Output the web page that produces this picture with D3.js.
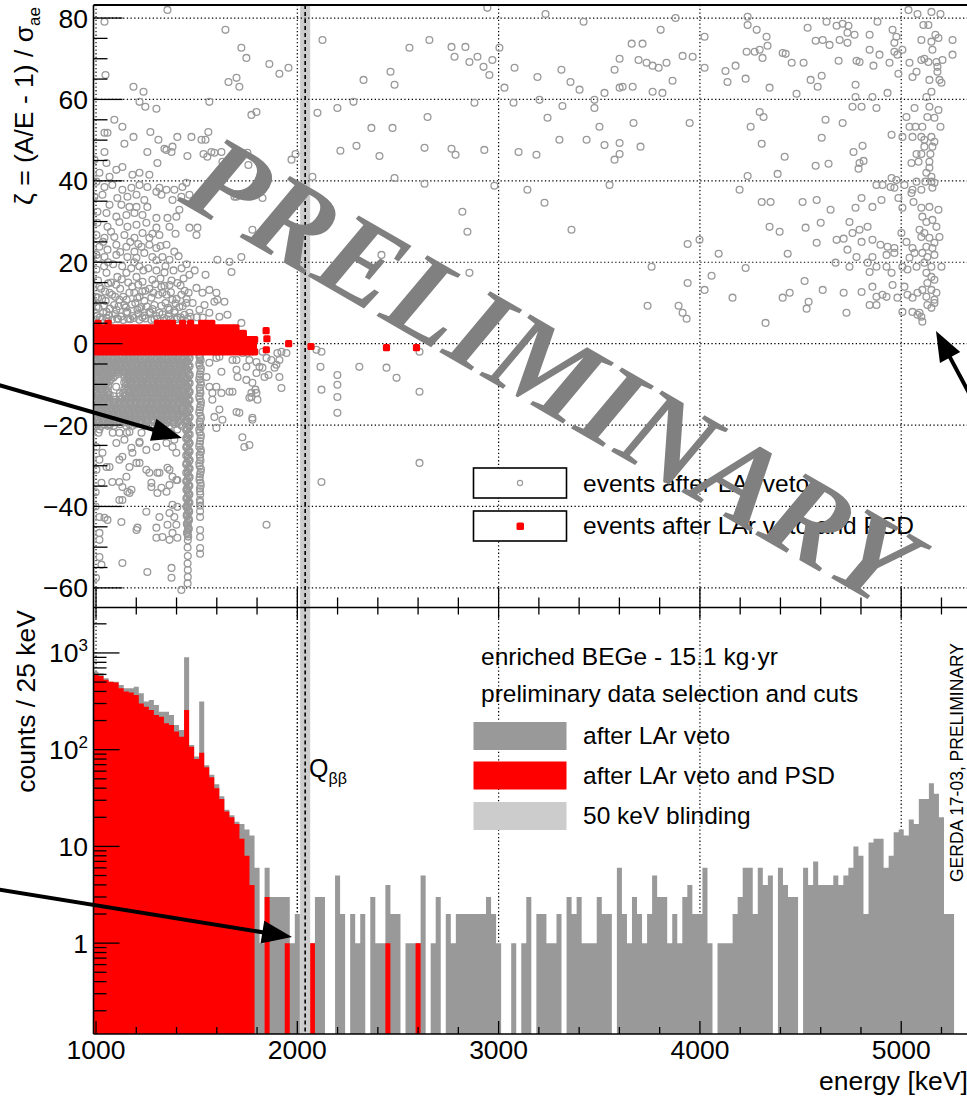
<!DOCTYPE html>
<html><head><meta charset="utf-8">
<script src="https://cdn.jsdelivr.net/npm/d3@7"></script>
<style>body{margin:0;background:#fff}svg{display:block}text{font-family:"Liberation Sans",Arial,Helvetica,sans-serif}</style>
</head><body>
<script>
// ---------------- DATA ----------------
const binStart = 987.5, binWidth = 25;
// counts / 25 keV after LAr veto (bin centres 1000,1025,...)
const countsLAr = [640,617,547,505,505,465,431,431,448,383,314,326,290,247,247,228,180,160,902,112,
85,314,69,55,44,33,24,21,18,17,15,13,6,1,6,3,3,3,3,1,
2,0,0,1,3,3,0,0,5,2,0,2,1,2,0,3,1,1,4,2,
2,0,1,1,1,5,0,1,3,0,2,1,2,2,2,2,2,2,3,2,
1,0,0,1,0,1,3,0,2,2,1,1,2,0,3,2,3,1,1,1,
3,2,2,0,6,2,1,3,2,1,2,5,3,3,1,2,1,3,4,2,
2,6,1,0,1,1,1,2,3,6,6,2,6,4,5,0,6,4,3,3,
0,6,4,7,4,4,4,5,4,5,6,10,8,2,11,12,12,6,8,14,
15,13,19,17,31,31,45,35,20,2,2];
// counts / 25 keV after LAr veto and PSD
const countsPSD = [592,577,527,505,495,431,399,389,368,301,278,257,228,219,188,180,154,136,257,107,
80,93,66,52,40,31,23,20,17,12,8,4,0,0,3,0,0,0,1,0,
0,0,0,1,0,0,0,0,0,0,0,0,0,0,0,0,0,0,1,0,
0,0,0,0,1];
const Qbb = 2039, blindLo = 2014, blindHi = 2064;

// events after LAr veto: [energy keV, zeta]
const grayEventsLowE = [
[1355,82],[1042,79.1],[1047,66],[1643,77.1],[1722,72.7],[1747,70.2],[1861,68.7],[1911,66.3],[1956,67.8],[1658,64.3],
[1698,65.3],[1712,63.1],[1186,63.1],[1236,61.9],[1216,59.4],[1245,58.2],[1300,57.7],[1563,59.4],[1772,56.2],[1797,56.9],
[1091,55],[1131,53.3],[1057,51.8],[1186,50.8],[1270,52],[1310,50.1],[1350,47.6],[1380,48.4],[1404,50.8],[1474,50.8],
[1524,50.1],[1544,50.1],[1558,52],[1141,49.1],[1255,47.1],[1340,47.9],[1375,47.1],[1454,46.1],[1534,46.6],[1573,47.1],
[1623,47.1],[1628,44.7],[1553,45.9],[1752,46.9],[1757,43.9],[1991,46.6],[1971,45.2],[1688,36.1],[1827,35.8],[1777,28],
[1663,20.1],[1673,17.6],[1603,20.6],[1722,21.3],[1042,51.8],[1042,47.1],[992,45.2],[1052,44.4],[1101,42.7],[1131,43.4],
[1181,41.5],[1216,42],[1265,41.5],[1305,44.4],[1017,42],[1067,41],[1588,46.9],
[1002,39.8],[1042,38.5],[1081,39],[1131,37.8],[1176,38.3],[1216,39],[1255,38.5],[1315,38.3],[1350,37.8],[1389,37.8],
[1429,38.5],[1449,39.5],[992,36.1],[1032,36.6],[1106,35.8],[1156,36.1],[1201,36.6],[1240,35.3],[1300,37.3],[1325,36.6],
[1380,35.3],[1424,36.1],[1464,36.6],[1067,34.1],[1126,34.1],[1166,33.6],[1201,33.6],[1255,33.6],[1414,32.9],[1007,32.4],
[1052,32.1],[1101,31.2],[1151,31.6],[1191,32.1],[1231,31.6],[1300,30.9],[1355,30.9],[1399,31.2],[1464,28.5],[1504,28.5],
[1499,26.7],[1007,29.7],[1057,28.7],[1116,29.9],[1156,28.7],[1201,29.2],[1250,29.7],[1300,28.5],[1315,26.7],[1365,28.7],
[1002,26.7],[1042,26],[1091,26.2],[1141,26.7],[1191,26],[1231,27.2],[1265,26],[1350,24.3],[1017,23.8],[1057,23.1],
[1101,24.3],[1151,23.8],[1191,22.6],[1226,23.8],[1265,24.3],[1300,23.5],[1389,22.6],[1002,21.8],[1042,21.3],[1101,21.8],
[1156,21.3],[1201,21.1],[1240,22.3],[1280,21.3],[1330,21.3],[1365,20.6],
[1002,18.2],[1052,17.4],[1106,16.4],[1151,17.4],[1201,16.4],[1231,15.2],[1280,15.7],[1325,14],[1365,14.4],[1404,14.9],
[1464,16.9],[1499,13.7],[1544,16.9],[1563,13.2],[1638,10.3],[1588,10.3],[1598,12.5],[1529,12.5],[1017,14],[1067,12.5],
[1116,10.8],[1166,12.5],[1216,11.5],[1275,11.3],[1330,12.5],[1380,10.8],[1424,12],[1449,10],[1514,8.3],[1563,7.6],
[1613,6.6],[1653,7.1],[1002,9],[1052,7.8],[1101,8.3],[1156,7.8],[1206,8.3],[1265,7.8],[1315,7.6],[1365,8.3],
[1414,9],[1464,7.6],[1010,15.5],[1030,11],[1075,15],[1090,9.5],[1120,13.5],[1140,9.5],[1180,14],[1195,10],
[1225,9],[1245,13],[1290,9.5],[1310,12],[1345,10],[1390,8],[1420,6.5],[1440,13],[1480,10],[1500,6.5],
[1020,6.5],[1060,5.5],[1110,6],[1170,6],[1230,6.5],[1290,6],[1350,6],[1400,6],[1040,19],[1085,19.5],
[1130,19],[1175,18.5],[1215,19],[1260,18.5],[1300,18],[1340,17.5],[1385,18],[1425,18.5],[1035,25],[1075,27.5],
[1170,25],[1210,24.5],[1280,27],[1320,24],[1395,27],[1698,36.1],[1539,9.5],[1603,10.8],[1722,5.1],
[1005,6.8],[1035,7.5],[1065,6.9],[1095,7.3],[1125,6.7],[1150,7.6],[1180,6.8],[1210,7.4],[1240,6.9],[1270,7.5],
[1300,6.8],[1330,7.2],[1360,6.7],[1390,7.6],[1440,7.1],[1470,6.6],[1530,6.4],[998,11.5],[1025,13.5],[1048,10.5],
[1080,12],[1100,14.5],[1135,11.5],[1160,15],[1190,12.5],[1210,14.5],[1240,10.5],[1265,13.5],[1285,12.5],[1320,16],
[1350,12],[1375,15.5],[1400,11],[1435,16],[1460,12.5],[1010,21],[1060,20],[1120,22.5],[1190,20],[1235,18],
[1300,20.5],[1345,19],[1410,21.5],[1450,19.5],[1490,18],
[1000,5.8],[1028,6],[1052,6.3],[1080,5.9],[1105,6.2],[1135,5.8],[1160,6.1],[1188,6.3],[1215,5.9],[1245,6.2],
[1275,5.8],[1305,6.1],[1338,6.3],[1370,5.9],[1405,6.4],[1430,5.8],[1455,6.1],[1012,8.8],[1040,9.4],[1068,8.6],
[1112,9.2],[1148,8.9],[1178,9.6],[1215,8.7],[1252,9.1],[1280,8.5],[1325,9.3],[1358,8.8],[1395,9.9],[1430,9.2],
[1010,11.3],[1045,12.8],[1060,14.8],[1095,11.5],[1128,15.8],[1152,10.8],[1205,11.2],[1230,12.8],[1295,14.6],[1340,14.2],
[1372,12.6],[1420,14.3],[1450,11],
// below the band
[1563,-4.7],[1613,-3.2],[1623,-6.9],[1549,-8.2],[1563,-10.6],[1578,-13.8],[1588,-18],[1613,-16.2],[1663,-11.8],[1712,-17],
[1772,-13.1],[1792,-11.3],[1747,-8.9],[1797,-7.2],[1797,-4.5],[1752,-2.3],[1827,-2],[1857,-7.7],[1896,-5.2],[1901,-2.3],
[1678,-4],[1703,-8.2],[1747,-5.7],[1514,-1.5],[1514,-3.2],[1598,-3.5],[1698,-4],[1727,-2.3],[1762,-4],[1698,-6.4],
[1777,-9.6],[1797,-12.1],[1762,-13.3],[1698,-16.8],[1777,-18.7],[1623,-12.1],[1598,-10.6],[1578,-12.1],[1628,-18.7],[1598,-20.7],
[1678,-11.8],[1827,-5.9],[1871,-4],[1911,-4],[1727,-23],[1737,-25.4],[1847,-44.5],
[1812,-5.7],[1837,-8.2],[1847,-3.5],[1887,-5.9],[1911,-8.2],[1921,-10.9],[1921,-2],[1946,-2.3],[1762,-24.9],[1777,-18.2],
[1802,-13.8],[1772,-12.1],
[1002,-25.4],[1017,-28.5],[1052,-30.3],[1101,-24.4],[1141,-23.6],[1176,-25.6],[1216,-24.4],[1250,-26.1],[1300,-25.4],[1350,-24.4],
[1380,-25.4],[1399,-26.8],[1116,-28.5],[1166,-30.3],[1216,-29.3],[1265,-31.7],[1315,-31.7],[1365,-31],[1399,-33.5],[1275,-35.2],
[1305,-36.7],[1350,-36.4],[1116,-34],[1156,-36.4],[1131,-38.4],[1250,-41.3],[1315,-42.6],[1380,-39.6],[1389,-42.6],[1201,-45.8],
[1300,-47.7],[1365,-48.2],[1404,-47.7],[1017,-48.2],[1017,-42.6],[1057,-43.3],[1126,-43.8],[1131,-53.9],[1255,-56.1],[1375,-55.1],
[1375,-57.5],[1424,-60.5],[1017,-52.4],[1027,-54.3],[1017,-21.1],[1067,-20],[1116,-21.9],[1166,-21.7],[1216,-24.1],[1389,-23.6],
[1404,-21.1],[1032,-26.8],[1131,-27.8],[1181,-26.8],[1067,-30.3],[1151,-32.7],[1201,-29.3],[1250,-31],[1305,-31.7],[1355,-30.5],
[1380,-32.7],[1002,-31],[1027,-34.2],[1081,-34],[1131,-35.2],[1176,-35.9],[1275,-34.2],[1325,-35.4],[1365,-34.7],[1404,-33.5],
[1116,-38.4],[1166,-36.7],[1365,-41.6],[1404,-40.1],[1042,-42.8],[1206,-45.2],[1300,-45.2],[1355,-44.5],[1399,-44.5],[1380,-46.5],
[1017,-46.5],[1330,-47.5],[998,-36.5],[998,-40],[1000,-57.5],[1100,-10.6],[1118,-12.2]
];
const grayDenseRows = [
[-3.2,[995,1022,1048,1076,1101,1129,1155,1182,1208,1236,1262,1290,1316,1343,1370,1396,1423,1440]],
[-3.6,[1008,1035,1061,1089,1114,1142,1168,1195,1221,1249,1275,1303,1329,1356,1383,1409,1436]],
[-4.05,[1002,1028,1055,1082,1108,1135,1162,1188,1215,1242,1268,1296,1322,1349,1376,1403,1430]],
[-4.45,[995,1015,1041,1068,1095,1121,1148,1175,1201,1228,1255,1281,1309,1335,1362,1389,1416,1443]],
[-4.9,[1008,1035,1061,1088,1115,1142,1168,1195,1222,1249,1275,1302,1329,1356,1383,1410,1436]],
[-5.3,[1001,1022,1048,1075,1101,1128,1155,1181,1209,1235,1262,1289,1315,1342,1369,1396,1423]],
[-5.75,[1014,1041,1068,1095,1121,1148,1175,1201,1228,1255,1282,1309,1336,1362,1389,1416,1442]],
[-6.15,[1007,1028,1054,1081,1108,1134,1161,1188,1214,1241,1268,1295,1322,1348,1375,1402,1429]],
[-6.6,[996,1021,1049,1075,1102,1128,1156,1181,1209,1235,1263,1289,1317,1342,1369,1397,1424]],
[-7.0,[995,1010,1035,1062,1088,1115,1142,1169,1195,1222,1249,1276,1302,1329,1356,1382,1410,1437]],
[-7.45,[1001,1027,1056,1081,1109,1135,1162,1188,1215,1242,1269,1296,1323,1349,1376,1403,1430]],
[-7.85,[1014,1041,1068,1095,1155,1181,1208,1235,1262,1289,1316,1342,1369,1396,1423]],
[-8.3,[1007,1034,1062,1087,1141,1169,1194,1221,1248,1276,1303,1330,1355,1382,1409,1437]],
[-8.7,[1000,1021,1048,1075,1155,1182,1208,1235,1262,1289,1316,1343,1370,1396,1423]],
[-9.15,[1013,1041,1068,1148,1175,1201,1228,1255,1282,1310,1336,1362,1389,1416,1442]],
[-9.55,[1007,1027,1054,1140,1168,1195,1221,1248,1275,1302,1329,1355,1382,1409,1436]],
[-10.0,[995,1020,1047,1155,1182,1208,1235,1262,1290,1316,1343,1370,1396,1423]],
[-10.4,[1013,1034,1061,1148,1175,1201,1228,1255,1282,1309,1336,1362,1389,1416,1443]],
[-10.85,[1001,1027,1054,1162,1188,1215,1242,1269,1296,1323,1350,1377,1403,1430]],
[-11.25,[995,1020,1047,1140,1155,1182,1208,1235,1262,1289,1316,1343,1370,1396,1423]],
[-11.7,[1006,1033,1060,1169,1196,1222,1249,1277,1303,1330,1357,1384,1410,1436]],
[-12.1,[1001,1027,1054,1135,1162,1189,1215,1242,1269,1296,1323,1349,1376,1403,1430]],
[-12.55,[1013,1040,1068,1150,1176,1203,1230,1256,1283,1310,1337,1363,1390,1417,1442]],
[-12.95,[1008,1034,1061,1088,1117,1143,1170,1197,1224,1250,1277,1304,1331,1357,1384,1411,1437]],
[-13.4,[996,1022,1050,1130,1157,1184,1211,1237,1264,1291,1318,1344,1371,1398,1425]],
[-13.8,[995,1015,1041,1068,1095,1121,1148,1175,1201,1228,1255,1282,1309,1335,1362,1389,1416,1442]],
[-14.25,[1002,1029,1056,1084,1111,1137,1164,1191,1218,1244,1271,1298,1325,1351,1378,1405,1432]],
[-14.65,[1009,1036,1063,1090,1117,1144,1171,1198,1224,1251,1278,1305,1332,1358,1385,1412,1439]],
[-15.1,[1008,1035,1063,1090,1117,1144,1171,1198,1224,1251,1278,1305,1332,1358,1385,1412]],
[-15.5,[996,1022,1049,1076,1103,1130,1157,1184,1211,1238,1264,1291,1318,1345,1372,1398,1426]],
[-15.95,[1014,1042,1070,1097,1124,1151,1178,1205,1231,1258,1285,1312,1339,1365,1392,1419]],
[-16.35,[1002,1029,1056,1083,1110,1137,1164,1191,1218,1244,1271,1298,1325,1352,1378,1405,1432]],
[-16.8,[997,1024,1051,1079,1106,1133,1160,1187,1213,1240,1267,1294,1321,1347,1374,1400,1428]],
[-17.2,[1010,1037,1064,1091,1119,1146,1173,1200,1227,1254,1281,1308,1334,1361,1388,1414,1440]],
[-17.65,[1004,1031,1058,1086,1113,1140,1167,1194,1220,1247,1274,1301,1328,1354,1381,1407,1434]],
[-18.05,[997,1024,1052,1080,1107,1134,1161,1189,1216,1243,1270,1297,1324,1351,1378,1405,1431]],
[-18.5,[1010,1038,1066,1093,1121,1148,1176,1203,1230,1257,1284,1312,1339,1366,1393,1420]],
[-18.9,[1003,1031,1059,1087,1115,1142,1170,1197,1224,1252,1279,1306,1333,1360,1387,1414]],
[-19.35,[1017,1045,1073,1100,1135,1162,1190,1217,1250,1291,1320,1353,1380,1408]],
[-19.8,[1011,1040,1070,1120,1165,1198,1228,1260,1303,1345,1390,1418]],
[-20.2,[998,1028,1058,1089,1150,1181,1242,1272,1334,1365,1425]],
[-21.9,[1012,1083,1153,1226,1298,1370]]
];
const grayLine1460 = [[1449,-2.6],[1463,-3.7],[1451,-4.6],[1461,-5.8],[1455,-6.7],[1464,-7.9],[1450,-8.8],[1460,-9.9],[1455,-10.8],[1463,-12],
[1450,-12.9],[1459,-14],[1455,-15.1],[1463,-16.2],[1451,-17.1],[1460,-18.3],[1455,-19.2],[1463,-20.4],[1450,-21.3],[1459,-22.5],
[1455,-23.4],[1463,-24.6],[1451,-25.5],[1460,-26.7],[1455,-27.6],[1463,-28.8],[1450,-29.7],[1459,-30.9],[1455,-31.8],[1462,-33],
[1451,-33.9],[1460,-35.1],[1455,-36],[1462,-37.2],[1451,-38.1],[1459,-39.3],[1455,-40.2],[1461,-41.4],[1452,-42.3],[1459,-43.5],
[1455,-44.6],[1458,-45.8],[1455,-46.9],[1456,-48.3],[1455,-50.1],[1456,-52.2],[1455,-54],[1456,-55.6],[1456,-57.3],[1455,-58.9],
[1457,-3.1],[1453,-4.2],[1459,-5.2],[1452,-6.3],[1460,-7.3],[1454,-8.4],[1458,-9.4],[1452,-10.5],[1459,-11.5],[1454,-12.5],
[1460,-13.6],[1452,-14.6],[1458,-15.7],[1453,-16.7],[1459,-17.8],[1452,-18.8],[1460,-19.9],[1454,-20.9],[1458,-22],[1452,-23],
[1459,-24.1],[1453,-25.1],[1460,-26.2],[1454,-27.2],[1458,-28.3],[1452,-29.3],[1460,-30.4],[1454,-31.4],[1458,-32.5],[1453,-33.5],
[1459,-34.6],[1452,-35.6],[1458,-36.7],[1454,-37.7],[1460,-38.8],[1453,-39.8],[1458,-40.9],[1454,-41.9],[1459,-43],[1455,-44],
[1458,-45.2],[1455,-46.2],
[1465,-3.4],[1448,-4.4],[1465,-5.5],[1448,-6.5],[1465,-7.6],[1448,-8.6],[1465,-9.7],[1448,-10.7],[1465,-11.8],[1448,-12.8],
[1465,-13.9],[1448,-14.9],[1465,-16],[1448,-17],[1465,-18.1],[1448,-19.1],[1465,-20.2],[1448,-21.2],[1465,-22.3],[1448,-23.3],
[1465,-24.4],[1448,-25.4],[1465,-26.5],[1448,-27.5],[1465,-28.6],[1448,-29.6],[1465,-30.7],[1448,-31.7],[1465,-32.8],[1448,-33.8],
[1464,-34.9],[1449,-35.9],[1464,-37],[1449,-38],[1464,-39.1],[1449,-40.1],[1463,-41.2],[1450,-42.2],[1462,-43.3],[1451,-44.3],
[1461,-45.5],[1452,-46.5],[1458,-47.4]];
const grayLine1525 = [[1514,-2.8],[1520,-4.1],[1515,-5.4],[1519,-6.8],[1515,-8.1],[1520,-9.5],[1515,-10.8],[1519,-12.2],[1515,-13.6],[1520,-15],
[1515,-16.3],[1519,-17.7],[1515,-19.1],[1520,-20.5],[1515,-21.8],[1519,-23.2],[1515,-24.6],[1520,-26],[1515,-27.3],[1519,-28.7],
[1515,-30.1],[1520,-31.5],[1515,-32.8],[1519,-34.2],[1516,-35.6],[1518,-37],[1516,-38.4],[1517,-39.8],[1517,-42.6],[1517,-45.8],
[1517,-47.5],[1517,-50.2],[1517,-51.6],
[1517,-3.5],[1513,-4.8],[1521,-6.1],[1517,-7.5],[1513,-8.8],[1521,-10.1],[1517,-11.5],[1513,-12.9],[1521,-14.3],[1517,-15.6],
[1513,-17],[1521,-18.4],[1517,-19.8],[1513,-21.1],[1521,-22.5],[1517,-23.9],[1513,-25.3],[1521,-26.6],[1517,-28],[1513,-29.4],
[1521,-30.8],[1517,-32.1],[1514,-33.5],[1520,-34.9],[1517,-36.3],[1517,-38.9],[1517,-41.2]];
const grayEventsMid = [
[2100,56.7],[2095,-1.5],[2120,-2],[2115,-5.7],[2120,-11.3],[2199,-7.7],[2199,-10.1],[2199,-13.1],[2199,-17],[2308,-5.7],
[2443,-5.9],[2493,-8.4],[2607,-2],[2607,-11.8],[2607,-29.3],[2120,-34],
[2944,82.5],[3233,81],[3422,79.1],[2766,72.9],[2781,70.5],[2835,72.9],[2855,69.2],[2895,70.5],[2925,68],[2969,69.7],
[2954,66],[3029,62.9],[3193,65.5],[3312,67.3],[3357,64.3],[3402,62.4],[3476,59.9],[3526,61.6],[2463,66.8],[2483,63.6],
[2329,64.8],[2279,59.4],[2199,57.9],[2368,53],[2473,53],[2647,55.7],[2880,59.2],[3074,59.2],[3203,59.9],[3243,55.5],
[3317,58.4],[3476,57.9],[2214,47.4],[2294,48.6],[2408,46.1],[2632,48.1],[2766,47.9],[2786,46.4],[2929,47.6],[3099,47.1],
[3188,46.4],[3302,50.1],[3437,50.1],[3526,48.8],[3501,53.3],[2075,41],[2483,40.7],[2632,39.3],[2979,38.8],[3576,45.2],
[3551,39],[2820,32.4],[3228,34.6],[2418,21.8],[2855,17.4],[2125,74.6],[2557,72.7],[2656,74.6],[3004,72.7],[3079,67.8],
[3576,67.3],[3143,37.8],[3362,28],[2845,27.5]
];
const grayEventsHighE = [
[3879,80],[4237,80.3],[3805,77.1],[4237,78.3],[4282,77.1],[4331,75.4],[4336,73.2],[4535,77.6],[4629,79.1],[4679,78.1],
[4709,78.6],[4738,78.1],[4733,76.4],[4768,75.9],[4843,75.9],[4882,79.1],[4957,77.1],[4976,75.4],[5036,82],[5081,81],
[5150,81.5],[5195,81],[5110,78.3],[5135,78.3],[5170,75.9],[5185,75.1],[5255,74.6],[5100,74.6],[5150,74.2],
[3666,63.1],[3616,63.1],[3765,61.9],[3814,61.6],[3864,64.6],[3914,70.7],[3964,70.5],[4023,75.4],[4023,67.8],[3695,69.7],
[3735,69],[3765,68.3],[3795,67.8],[3834,69],[3661,73.7],[3715,73.7],[3601,70],[3601,62.9],
[4127,67],[4177,68.3],[4137,64.3],[4227,65.1],[4232,71.7],[4272,71.7],[4297,72.2],[4311,70.2],[4346,62.9],[4411,71.4],
[4426,71.2],[4456,69],[4515,69],[4480,61.4],[4550,64.8],[4585,63.1],[4605,65.8],[4575,74.4],[4610,74.6],[4644,73.4],
[4694,74.6],[4733,73.9],[4778,69.5],[4689,69.5],[4793,69.2],[4843,72.2],[4862,68.3],[4892,71],[4932,61.6],[4857,60.6],
[4773,63.6],[4773,60.6],[4758,58.2],[4803,58.2],[4877,57.9],[4942,69],[4966,71.7],[4966,73.9],[4981,71],[4986,66.3],
[5006,72.2],[5041,69],[5056,65.5],[5076,66.8],[5100,69.7],[5115,70],[5135,69.2],[5155,72.2],[5175,69.2],[5180,66.8],
[5190,64.8],[5200,64.1],[5255,71],[5205,69.7],[5180,68],[5140,64.8],[5150,61.9],[5125,60.6],[5066,57.9],[5140,58.2],
[5185,57.4],
[3670,54.2],[3949,54.2],[3601,49.3],[3601,46.6],[3705,48.4],[4297,56.9],[4316,55.7],[4252,53.3],[4307,49.1],[4624,55],
[4709,54.2],[4605,50.6],[4763,47.1],[4808,48.6],[4793,44.4],[4813,44.9],[4788,43],[4639,44.2],[4575,43.7],[4421,45.9],
[4386,41.7],[4237,41.2],[5026,55.7],[5041,53.3],[5071,53.3],[5105,53.3],[5130,55.7],[5165,55.5],[5195,53.3],[4952,51.3],
[5006,50.8],[5056,50.8],[5100,50.8],[5115,50.1],[5150,50.8],[5165,49.6],[5155,48.4],[5115,48.4],[5076,46.6],[5100,46.6],
[5145,46.6],[5051,44.4],[5086,44.7],[5140,44.7],[5140,43.2],[5125,42],[5150,41],[5150,39.8],[5165,39.5],[5120,39.8],
[5100,37.8],[5076,39.8],[5056,37.8],[5016,39],[4976,40.2],[4952,40.7],[4907,39],[4877,39],[4947,38.5],[4966,38.3],
[5051,37],[5155,38.3],
[4197,37.8],[4307,34.8],[4351,34.8],[4510,34.8],[4580,35.3],[4649,32.9],[4773,33.4],[4803,35.8],[4857,33.6],[4902,35.3],
[4986,35.8],[5006,33.4],[5061,34.8],[5100,33.4],[5140,33.6],[5185,32.9],[5105,31.2],[5125,29.9],[5155,30.4],[5175,28.7],
[5190,26.2],[5091,28],[5100,26.2],[5115,27.2],[5140,26],[5165,24.8],[5155,23.5],[5125,23.8],[5105,22.3],[5130,21.3],
[5165,21.8],[5115,19.9],[5150,18.9],[5200,18.9],[5125,17.4],[5150,16.4],[5165,15.7],[5130,14.9],[5105,13.2],[5150,13.2],
[5175,12.5],[5125,11.5],[5165,10.8],[5130,9.5],[5165,10],[5091,7.6],[5100,6.6],[5150,8.8],[5105,5.4],
[4346,28.7],[4396,27.5],[4525,28.5],[4600,29.7],[4743,29.9],[4758,27.2],[4793,28],[4833,28.7],[4679,25.5],[4714,25.8],
[4803,25],[4857,25.5],[4897,24.3],[4932,23.8],[4966,23.5],[5001,27.2],[5026,25],[5056,23.5],[4580,24.8],[4733,23.1],
[4778,21.3],[4857,21.3],[4927,21.8],[4966,22.3],[5041,21.1],[5066,22.3],[5076,18.9],[5006,18.9],[4927,18.9],[4877,18.9],
[4833,19.9],[4743,18.9],[4674,19.9],[4843,17.6],[4952,17.4],[5031,18.2],[3939,24.5],[3998,25.5],[4093,22.1],[4436,22.1],
[3760,18.9],[4227,18.6],[4058,16.7],[3939,14.9],[4023,13.2],[4520,15.4],[4610,13.2],[4714,12.5],[4803,12.7],[4857,14],
[4877,11.5],[4907,12],[4957,14.4],[5016,14],[5031,12],[5056,11.3],[5081,12.5],[4843,9.5],[4877,9.5],[4927,11.5],
[4981,11.3],[5006,7.8],[5056,7.8],[5081,7.1],[4411,11.3],[4446,12.5],[4540,10.3],[4530,8.6],[4728,7.6],[4162,11.3],
[3740,9.3],[3894,9.3],[3914,7.6],[3934,6.1],[4326,5.1]
];
// events after LAr veto and PSD
const redBandRows = [
[-2.0,[995,1020,1045,1070,1095,1120,1145,1170,1195,1220,1245,1270,1295,1320,1345,1370,1395,1420,1445,1470,1495,1520,1545,1570,1595,1620,1645,1670,1695,1720,1745,1770,1788]],
[-0.5,[1007,1032,1057,1082,1107,1132,1157,1182,1207,1232,1257,1282,1307,1332,1357,1382,1407,1432,1457,1482,1507,1532,1557,1582,1607,1632,1657,1682,1707,1732,1757,1782]],
[1.0,[995,1020,1045,1070,1095,1120,1145,1170,1195,1220,1245,1270,1295,1320,1345,1370,1395,1420,1445,1470,1495,1520,1545,1570,1595,1620,1645,1670,1695,1720,1745,1770,1788]],
[2.5,[1007,1032,1057,1082,1107,1132,1157,1182,1207,1232,1257,1282,1307,1332,1357,1382,1407,1432,1457,1482,1507,1532,1557,1582,1607,1632,1657,1682,1707,1732]],
[3.9,[995,1020,1045,1070,1095,1120,1145,1170,1195,1220,1245,1270,1295,1320,1345,1370,1395,1420,1445,1470,1495,1520,1545,1570,1595,1620,1645,1670,1695]],
[5.0,[1010,1060,1305,1330,1355,1380,1430,1470,1525,1550,1575]]
];
const redEvents = [[1845,3.2],[1849,1.2],[1846,-1.5],[1957,0],[2068,-0.7],[2443,-1],[2592,-1]];

const zetaTicks = [-60,-40,-20,0,20,40,60,80];
const energyTicks = [1000,2000,3000,4000,5000];
const countTicks = [1,10,100,1000];

// ---------------- LAYOUT ----------------
const W = 967, H = 1099;
const L = 93.5, TOP = 5, MID = 607.5, BOT = 1034, R = 1010;
const svg = d3.select('body').append('svg').attr('width', W).attr('height', H);
svg.append('rect').attr('width', W).attr('height', H).attr('fill', '#fff');

const x = d3.scaleLinear().domain([987.5, 5500]).range([L, L + 4512.5 * 0.2013]);
const yT = d3.scaleLinear().domain([-64.7, 83.2]).range([607, 5]);
const yB = d3.scaleLog().domain([0.115, 2950]).range([BOT, MID]);

const defs = svg.append('defs');
defs.append('clipPath').attr('id', 'cT').append('rect').attr('x', L).attr('y', TOP).attr('width', R - L).attr('height', MID - TOP);
defs.append('clipPath').attr('id', 'cB').append('rect').attr('x', L).attr('y', MID).attr('width', R - L).attr('height', BOT - MID);

const DOT = '1.3,2.4';
// ---------- TOP PANEL ----------
const gT = svg.append('g').attr('clip-path', 'url(#cT)');
gT.append('rect').attr('x', x(blindLo)).attr('width', x(blindHi) - x(blindLo)).attr('y', TOP).attr('height', MID - TOP).attr('fill', '#cccccc');
zetaTicks.forEach(v => gT.append('line').attr('x1', L).attr('x2', R).attr('y1', yT(v)).attr('y2', yT(v))
  .attr('stroke', '#000').attr('stroke-width', 1.2).attr('stroke-dasharray', DOT));
energyTicks.forEach(v => gT.append('line').attr('x1', x(v)).attr('x2', x(v)).attr('y1', TOP).attr('y2', MID)
  .attr('stroke', '#000').attr('stroke-width', 1.2).attr('stroke-dasharray', DOT));
gT.append('line').attr('x1', x(Qbb)).attr('x2', x(Qbb)).attr('y1', TOP).attr('y2', MID)
  .attr('stroke', '#000').attr('stroke-width', 1.6).attr('stroke-dasharray', '4,3');

const grayAll = [];
grayEventsLowE.forEach(p => grayAll.push(p));
grayDenseRows.forEach(([z, es]) => es.forEach(e => grayAll.push([e, z])));
grayLine1460.forEach(p => grayAll.push(p));
grayLine1525.forEach(p => grayAll.push(p));
grayEventsMid.forEach(p => grayAll.push(p));
grayEventsHighE.forEach(p => grayAll.push(p));
gT.append('g').selectAll('circle').data(grayAll).join('circle')
  .attr('cx', d => x(d[0])).attr('cy', d => yT(d[1])).attr('r', 3.4)
  .attr('fill', 'none').attr('stroke', '#999999').attr('stroke-width', 1.3);

const redAll = [];
redBandRows.forEach(([z, es]) => es.forEach(e => redAll.push([e, z])));
redEvents.forEach(p => redAll.push(p));
const S = 7.2;
gT.append('g').selectAll('rect').data(redAll).join('rect')
  .attr('x', d => x(d[0]) - S / 2).attr('y', d => yT(d[1]) - S / 2).attr('width', S).attr('height', S)
  .attr('rx', 1.6).attr('fill', '#ff0000');

// top legend
[[468, 'gray'], [511, 'red']].forEach(([yy, t]) => {
  svg.append('rect').attr('x', 473.5).attr('y', yy).attr('width', 93).attr('height', 30)
    .attr('fill', '#fff').attr('stroke', '#000').attr('stroke-width', 1.6);
  if (t === 'gray') svg.append('circle').attr('cx', 520).attr('cy', yy + 15).attr('r', 2.6)
    .attr('fill', 'none').attr('stroke', '#9a9a9a').attr('stroke-width', 1.1);
  else svg.append('rect').attr('x', 516.5).attr('y', yy + 11.5).attr('width', 7.5).attr('height', 7.5).attr('rx', 1.6).attr('fill', '#ff0000');
});
const legT = (txt, yy) => svg.append('text').attr('x', 583).attr('y', yy).attr('font-size', 24.5).attr('fill', '#000').text(txt);
legT('events after LAr veto', 491.5);
legT('events after LAr veto and PSD', 534);

// ---------- BOTTOM PANEL ----------
const gB = svg.append('g').attr('clip-path', 'url(#cB)');
energyTicks.forEach(v => gB.append('line').attr('x1', x(v)).attr('x2', x(v)).attr('y1', MID).attr('y2', BOT)
  .attr('stroke', '#000').attr('stroke-width', 1.2).attr('stroke-dasharray', DOT));
function histPath(counts) {
  let p = `M${x(binStart)},${BOT}`;
  counts.forEach((c, k) => {
    const e1 = binStart + (k + 1) * binWidth;
    const yy = c > 0 ? yB(c) : BOT;
    p += `V${yy}H${x(e1)}`;
  });
  p += `V${BOT}Z`;
  return p;
}
gB.append('path').attr('d', histPath(countsLAr)).attr('fill', '#999999');
gB.append('path').attr('d', histPath(countsPSD)).attr('fill', '#ff0000');
gB.append('rect').attr('x', x(blindLo)).attr('width', x(blindHi) - x(blindLo)).attr('y', MID).attr('height', BOT - MID).attr('fill', '#cccccc');
gB.append('line').attr('x1', x(2000)).attr('x2', x(2000)).attr('y1', MID).attr('y2', yB(2))
  .attr('stroke', '#000').attr('stroke-width', 1.2).attr('stroke-dasharray', DOT);
gB.append('line').attr('x1', x(Qbb)).attr('x2', x(Qbb)).attr('y1', MID).attr('y2', BOT)
  .attr('stroke', '#000').attr('stroke-width', 1.6).attr('stroke-dasharray', '4,3');

const q = svg.append('text').attr('x', 309).attr('y', 777).attr('font-size', 25);
q.append('tspan').text('Q');
q.append('tspan').attr('font-size', 16).attr('dy', 7).text('ββ');

svg.append('text').attr('x', 481).attr('y', 665).attr('font-size', 24.5).text('enriched BEGe - 15.1 kg·yr');
svg.append('text').attr('x', 481).attr('y', 702).attr('font-size', 24.5).text('preliminary data selection and cuts');
[['#999999', 722, 'after LAr veto', 744], ['#ff0000', 761.5, 'after LAr veto and PSD', 784], ['#cccccc', 802, '50 keV blinding', 824]]
  .forEach(([c, yy, t, ty]) => {
    svg.append('rect').attr('x', 473.5).attr('y', yy).attr('width', 93).attr('height', 28).attr('fill', c);
    svg.append('text').attr('x', 583).attr('y', ty).attr('font-size', 24.5).text(t);
  });

// ---------- FRAMES & AXES ----------
const ax = svg.append('g').attr('stroke', '#000').attr('fill', 'none');
ax.append('line').attr('x1', L).attr('x2', W + 5).attr('y1', TOP).attr('y2', TOP).attr('stroke-width', 1.8);
ax.append('line').attr('x1', L).attr('x2', L).attr('y1', TOP).attr('y2', BOT).attr('stroke-width', 1.6);
ax.append('line').attr('x1', L).attr('x2', W + 5).attr('y1', MID).attr('y2', MID).attr('stroke-width', 1.6);
ax.append('line').attr('x1', L).attr('x2', W + 5).attr('y1', BOT).attr('y2', BOT).attr('stroke-width', 1.6);

d3.range(-60, 81, 5).forEach(v => {
  const major = v % 20 === 0;
  ax.append('line').attr('x1', L).attr('x2', L + (major ? 29 : 14)).attr('y1', yT(v)).attr('y2', yT(v)).attr('stroke-width', 1.3);
});
d3.range(1000, 5401, 200).forEach(v => {
  const major = v % 1000 === 0;
  const xv = x(v);
  ax.append('line').attr('x1', xv).attr('x2', xv).attr('y1', MID - (major ? 20 : 10)).attr('y2', MID + (major ? 11 : 7)).attr('stroke-width', 1.3);
  ax.append('line').attr('x1', xv).attr('x2', xv).attr('y1', BOT - (major ? 13 : 7)).attr('y2', BOT).attr('stroke-width', 1.3);
});
[0.2,0.3,0.4,0.5,0.6,0.7,0.8,0.9,1,2,3,4,5,6,7,8,9,10,20,30,40,50,60,70,80,90,100,200,300,400,500,600,700,800,900,1000,2000]
  .forEach(v => {
    const major = countTicks.includes(v);
    ax.append('line').attr('x1', L).attr('x2', L + (major ? 26 : 13)).attr('y1', yB(v)).attr('y2', yB(v)).attr('stroke-width', 1.3);
  });

const lab = svg.append('g').attr('font-size', 26.5).attr('fill', '#000');
zetaTicks.forEach(v => lab.append('text').attr('x', 88).attr('y', yT(v)).attr('dy', '0.36em').attr('text-anchor', 'end')
  .text(v < 0 ? '\u2212' + Math.abs(v) : String(v)));
energyTicks.forEach(v => lab.append('text').attr('x', x(v)).attr('y', 1059).attr('text-anchor', 'middle').text(v));
countTicks.forEach(v => {
  const t = lab.append('text').attr('x', 88).attr('y', yB(v)).attr('dy', '0.36em').attr('text-anchor', 'end');
  if (v >= 100) { t.append('tspan').text('10'); t.append('tspan').attr('font-size', 17).attr('dy', -11).text(String(Math.log10(v))); }
  else t.text(String(v));
});

const yt = svg.append('text').attr('transform', 'translate(33,7) rotate(-90)').attr('text-anchor', 'end').attr('font-size', 26.5);
yt.append('tspan').text('ζ = (A/E - 1) / σ');
yt.append('tspan').attr('font-size', 17).attr('dy', 7).text('ae');
svg.append('text').attr('transform', 'translate(35,610) rotate(-90)').attr('text-anchor', 'end').attr('font-size', 26.5).text('counts / 25 keV');
svg.append('text').attr('x', 819).attr('y', 1090).attr('font-size', 26.5).text('energy [keV]');
svg.append('text').attr('transform', 'translate(963,882) rotate(-90)').attr('font-size', 17.5).text('GERDA 17-03, PRELIMINARY');

function arrow(x0, y0, x1, y1) {
  const dx = x1 - x0, dy = y1 - y0, len = Math.hypot(dx, dy), ux = dx / len, uy = dy / len;
  const hl = 30, hw = 11.5;
  const bx = x1 - hl * ux, by = y1 - hl * uy;
  svg.append('line').attr('x1', x0).attr('y1', y0).attr('x2', bx + 3 * ux).attr('y2', by + 3 * uy)
    .attr('stroke', '#000').attr('stroke-width', 4);
  svg.append('polygon').attr('points', `${x1},${y1} ${bx - hw * uy},${by + hw * ux} ${bx + hw * uy},${by - hw * ux}`).attr('fill', '#000');
}
arrow(-5, 384, 182, 438);
arrow(-5, 889, 292, 937);
arrow(978, 410, 936, 331);

// watermark
svg.append('text').attr('transform', 'translate(531,405) rotate(30)').attr('text-anchor', 'middle')
  .style('font-family', '"Liberation Serif","Times New Roman",serif').style('font-style', 'italic').style('font-weight', 'bold')
  .attr('font-size', 119).attr('fill', '#808080').text('PRELIMINARY');
</script>
</body></html>
